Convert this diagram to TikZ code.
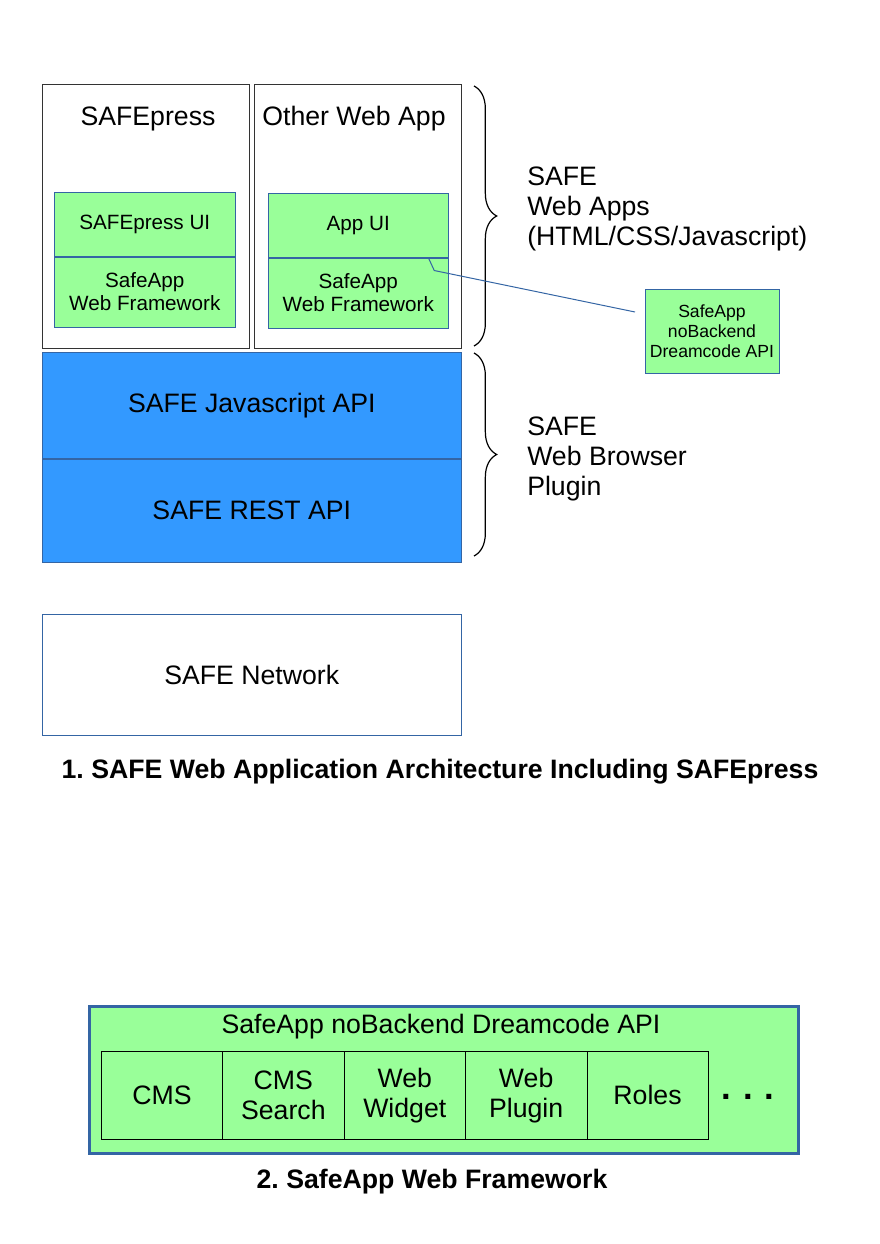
\documentclass[tikz,border=0pt]{standalone}
\usepackage{fontspec}
\setmainfont{Liberation Sans}
\usetikzlibrary{positioning, decorations.pathreplacing}
\definecolor{safegreen}{HTML}{99FF99}
\definecolor{safeblue}{HTML}{3399FF}
\definecolor{lineblue}{HTML}{3465A4}
\newdimen\px \px=0.75pt
\frenchspacing

\begin{document}
\begin{tikzpicture}[x=0.75pt, y=-0.75pt,
    every node/.style={inner sep=0pt},
    big/.style={font=\fontsize{20}{22.5}\selectfont},
    caption/.style={font=\fontsize{20}{22.5}\selectfont\bfseries},
    appbox/.style={draw=black!80, fill=white, anchor=north west,
      minimum width=207\px, minimum height=264\px},
    layer/.style={draw=lineblue, fill=safegreen, anchor=north west, align=center,
      minimum width=181\px, minimum height=64\px,
      font=\fontsize{15.5}{17.25}\selectfont},
    plugin/.style={draw=lineblue, fill=safeblue, big, anchor=north west,
      minimum width=419\px, minimum height=106\px},
    brace/.style={decorate, decoration={brace, amplitude=17pt}, black, line width=0.9pt},
    cell/.style={draw=black, fill=safegreen, big, align=center, anchor=north west,
      minimum width=121.4\px, minimum height=88\px},
    callout/.style={draw=lineblue, line width=0.75pt}]

   \useasboundingbox (0,0) rectangle (880,1244);

   % web apps
   \node[appbox] (press) at (42,84) {};
   \node[appbox] (other) at (254,84) {};
   \node[big] (presstitle) at (148,118.5) {SAFEpress};
   \node[big] (othertitle) at (354,118.5) {Other Web App};

   \node[layer] (pressui) at (54,192) {SAFEpress UI};
   \node[layer, minimum height=70\px, below=0pt of pressui] (pressfw) {SafeApp\\Web Framework};
   \node[layer, minimum width=180\px] (otherui) at (268,193) {App UI};
   \node[layer, minimum width=180\px, minimum height=70\px, below=0pt of otherui] (otherfw) {SafeApp\\Web Framework};

   % browser plugin
   \node[plugin] (jsapi) at (42,352) {SAFE Javascript API};
   \node[plugin, minimum height=103\px, below=0pt of jsapi] (restapi) {SAFE REST API};

   \node[draw=lineblue, fill=white, big, anchor=north west,
     minimum width=419\px, minimum height=121\px] (network) at (42,614) {SAFE Network};

   % braces and labels
   \draw[brace] (474,86) -- (474,346);
   \draw[brace] (474,353) -- (474,556);
   \node[big, anchor=west, align=left] (appslabel) at (527,209) {SAFE\\Web Apps\\(HTML/CSS/Javascript)};
   \node[big, anchor=west, align=left] (pluginlabel) at (527,459) {SAFE\\Web Browser\\Plugin};

   % callout
   \node[draw=lineblue, fill=safegreen, align=center, minimum width=134\px, minimum height=84\px,
     font=\fontsize{13.2}{15}\selectfont] (dreamcode) at (712,331) {SafeApp\\noBackend\\Dreamcode API};
   \coordinate (calloutend) at (635,312);
   \draw[callout] ([xshift=70\px]otherfw.north) -- ++(6,13) -- (calloutend);

   \node[caption] (caption1) at (440,772) {1. SAFE Web Application Architecture Including SAFEpress};

   % framework
   \node[draw=lineblue, line width=2.25pt, fill=safegreen, anchor=north west,
     minimum width=709\px, minimum height=147\px] (framework) at (88,1005) {};
   \node[big] (fwtitle) at (441,1027) {SafeApp noBackend Dreamcode API};
   \foreach \i/\name in {0/CMS, 1/{CMS\\Search}, 2/{Web\\Widget}, 3/{Web\\Plugin}, 4/Roles}
     \node[cell] (cell\i) at ({101+121.4*\i},1051) {\name};
   \node[font=\fontsize{26}{28}\selectfont\bfseries] (more) at (748,1097) {.\hspace{0.35em}.\hspace{0.35em}.};

   \node[caption] (caption2) at (432,1182) {2. SafeApp Web Framework};
\end{tikzpicture}
\end{document}
